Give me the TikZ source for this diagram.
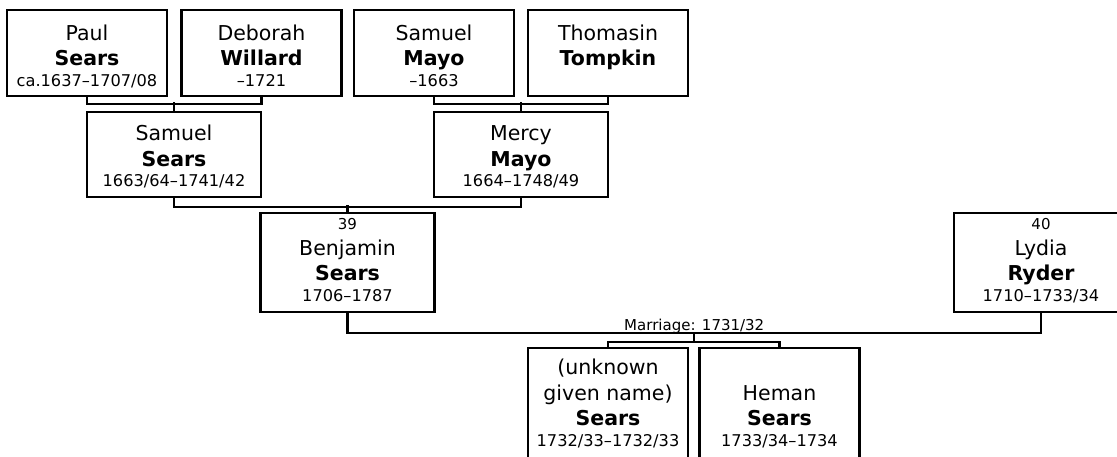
\documentclass[tikz,border=0pt]{standalone}
\usepackage{fontspec}
\setmainfont{DejaVu Sans}
\newcommand\datefont{\fontsize{16.2}{20.5}\selectfont}
\newcommand\numfont{\fontsize{15}{18}\selectfont}
\tikzset{person/.style={draw,line width=2.2pt,align=center,anchor=north,inner sep=0pt,
                        minimum width=160pt,font=\fontsize{20.5}{25.5}\selectfont},
         gen1/.style={person,text height=76.3pt,text depth=9.7pt},
         gen2/.style={person,minimum width=174pt,text height=74.5pt,text depth=10pt},
         gen3/.style={person,minimum width=174pt,text height=88pt,text depth=10.5pt},
         gen4/.style={person,text height=98pt,text depth=15pt},
         line/.style={draw,line width=2.2pt},
         wedding/.style={font=\numfont,anchor=base,inner sep=0pt,yshift=3pt}
         }

\begin{document}
\begin{tikzpicture}[x=1pt,y=-1pt]
\useasboundingbox (0,0) rectangle (1117,456);
% great-grandparents
\node[gen1] (paul) at (87,9) {Paul\\\textbf{Sears}\\[-5pt]{\datefont ca.1637–1707/08}};
\node[gen1] (deborah) at (261.5,9) {Deborah\\\textbf{Willard}\\[-5pt]{\datefont –1721}};
\node[gen1] (smayo) at (434,9) {Samuel\\\textbf{Mayo}\\[-5pt]{\datefont –1663}};
\node[gen1] (thomasin) at (608,9) {Thomasin\\\textbf{Tompkin}\\[-5pt]{}};
% grandparents
\node[gen2] (ssears) at (174,111) {Samuel\\\textbf{Sears}\\[-5pt]{\datefont 1663/64–1741/42}};
\node[gen2] (mercy) at (521,111) {Mercy\\\textbf{Mayo}\\[-5pt]{\datefont 1664–1748/49}};
% parents
\node[gen3] (benjamin) at (347.5,212) {{\numfont 39}\\Benjamin\\\textbf{Sears}\\[-5pt]{\datefont 1706–1787}};
\node[gen3] (lydia) at (1041,212) {{\numfont 40}\\Lydia\\\textbf{Ryder}\\[-5pt]{\datefont 1710–1733/34}};
% children
\node[gen4] (unknown) at (608,347) {(unknown\\given name)\\\textbf{Sears}\\[-5pt]{\datefont 1732/33–1732/33}};
\node[gen4] (heman) at (779.5,347) {Heman\\\textbf{Sears}\\[-5pt]{\datefont 1733/34–1734}};

\draw[line] (paul.south) -- ++(0,7) -| (deborah.south);
\draw[line] (ssears.north) -- ++(0,-9);
\draw[line] (smayo.south) -- ++(0,7) -| (thomasin.south);
\draw[line] (mercy.north) -- ++(0,-9);
\draw[line] (ssears.south) -- ++(0,9) -| (mercy.south);
\draw[line] (benjamin.north) -- ++(0,-7.5);
\draw[line] (benjamin.south) -- ++(0,20.5) -| node[wedding,pos=.25] (marriage) {Marriage: 1731/32}
            coordinate[pos=.25] (wed) (lydia.south);
\draw[line] (wed) -- ++(0,9) coordinate (kids);
\draw[line] (unknown.north) |- (kids) -| (heman.north);
\end{tikzpicture}
\end{document}
